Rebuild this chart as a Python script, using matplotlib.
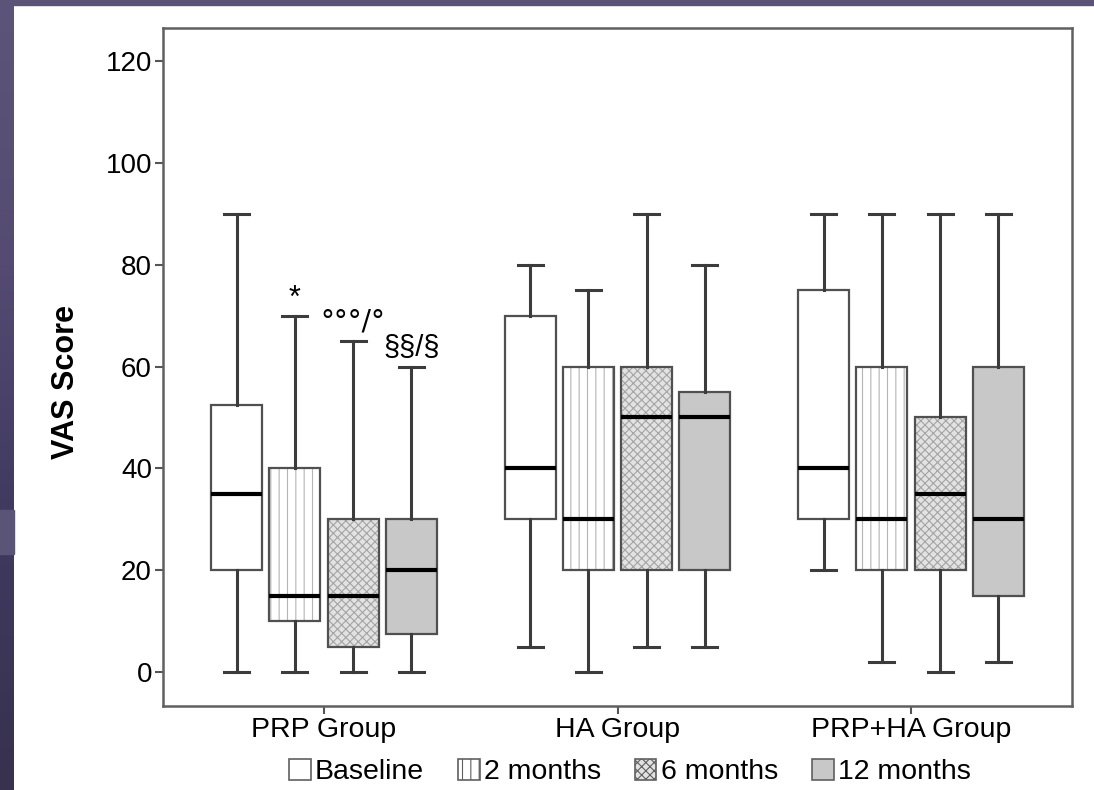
import numpy as np
import matplotlib
matplotlib.use('Agg')
import matplotlib.pyplot as plt
from matplotlib.patches import PathPatch, Patch, Rectangle
from matplotlib.colors import LinearSegmentedColormap

plt.rcParams['font.family'] = ['Liberation Sans', 'DejaVu Sans']
plt.rcParams['hatch.linewidth'] = 0.8

groups = ['PRP Group', 'HA Group', 'PRP+HA Group']
times = ['Baseline', '2 months', '6 months', '12 months']

# one row per group, columns follow `times`
whis_low = [[0, 0, 0, 0], [5, 0, 5, 5], [20, 2, 0, 2]]
q1 = [[20, 10, 5, 7.5], [30, 20, 20, 20], [30, 20, 20, 15]]
median = [[35, 15, 15, 20], [40, 30, 50, 50], [40, 30, 35, 30]]
q3 = [[52.5, 40, 30, 30], [70, 60, 60, 55], [75, 60, 50, 60]]
whis_high = [[90, 70, 65, 60], [80, 75, 90, 80], [90, 90, 90, 90]]

# significance marks for PRP group (group index, time index)
marks = {(0, 1): '*', (0, 2): '°°°/°', (0, 3): '§§/§'}

yticks = [0, 20, 40, 60, 80, 100, 120]

# styles per time point
face = ['white', 'white', '#e2e2e2', '#c8c8c8']
hatch = [None, '||', 'xxxx', None]
hatch_col = ['white', '#b4b4b4', '#a4a4a4', '#c8c8c8']
edge = '#505050'

W, H = 1094, 790
fig = plt.figure(figsize=(W / 100, H / 100), dpi=100)
fig.patch.set_facecolor('white')

# slide background strips
bg = fig.add_axes([0, 0, 1, 1], zorder=-10)
bg.set_xlim(0, W)
bg.set_ylim(H, 0)
bg.axis('off')
cmap = LinearSegmentedColormap.from_list('slide', ['#5c5479', '#554b72', '#3f395f', '#38324f'])
grad = np.linspace(0, 1, 200).reshape(-1, 1)
bg.imshow(grad, extent=(0, 14, H, 0), aspect='auto', cmap=cmap)
bg.add_patch(Rectangle((0, 510), 14, 44, color='#5a5476'))
bg.add_patch(Rectangle((0, 0), W, 5, color='#5b5378'))

ax = fig.add_axes([163 / W, 1 - 706 / H, (1072 - 163) / W, (706 - 28) / H])
ax.set_facecolor('white')

step = 0.198
width = 0.174
stats, pos = [], []
for g in range(len(groups)):
    for t in range(len(times)):
        stats.append(dict(med=median[g][t], q1=q1[g][t], q3=q3[g][t],
                          whislo=whis_low[g][t], whishi=whis_high[g][t], fliers=[]))
        pos.append(g + (t - 1.5) * step)

bp = ax.bxp(stats, positions=pos, widths=width, capwidths=0.085, patch_artist=True,
            showfliers=False,
            boxprops=dict(edgecolor=edge, linewidth=1.6, facecolor='none'),
            whiskerprops=dict(color='#3c3c3c', linewidth=2.2),
            capprops=dict(color='#3c3c3c', linewidth=2.2),
            medianprops=dict(color='black', linewidth=3, solid_capstyle='butt'))

for i, box in enumerate(bp['boxes']):
    t = i % len(times)
    fill = PathPatch(box.get_path(), transform=box.get_transform(), facecolor=face[t],
                     edgecolor=hatch_col[t], hatch=hatch[t], linewidth=0, zorder=box.get_zorder() - 0.5)
    ax.add_patch(fill)

# mark text styles: (font size, family, offset above whisker in points)
mark_style = {'*': (22, 'Liberation Sans', 1),
              '°°°/°': (20, 'DejaVu Sans', 4),
              '§§/§': (21, 'Liberation Sans', 3)}
for (g, t), txt in marks.items():
    i = g * len(times) + t
    size, fam, dy = mark_style[txt]
    ax.annotate(txt, xy=(pos[i], whis_high[g][t]), xytext=(0, dy), textcoords='offset points',
                ha='center', va='bottom', fontsize=size, family=fam)

ax.set_xlim(-0.5486, 2.5486)
ax.set_ylim(-6.68, 126.5)
ax.set_yticks(yticks)
ax.set_yticklabels([str(v) for v in yticks], fontsize=20)
ax.set_xticks(range(len(groups)))
ax.set_xticklabels(groups, fontsize=20.5)
ax.tick_params(axis='both', direction='out', length=6, width=1.5, color='#555555', pad=2)
for s in ax.spines.values():
    s.set_color('#606060')
    s.set_linewidth(1.8)

fig.text(66 / W, 1 - 382 / H, 'VAS Score', rotation=90, fontsize=22, fontweight='bold',
         ha='center', va='center')

handles = [Patch(facecolor=face[t], edgecolor='#606060', hatch=hatch[t], linewidth=1.2)
           for t in range(len(times))]
fig.legend(handles, times, loc='center', bbox_to_anchor=(630 / W, 1 - 772 / H), ncol=4,
           frameon=False, fontsize=20.5, handlelength=0.75, handleheight=0.75,
           handletextpad=0.15, columnspacing=1.2, borderaxespad=0)

fig.savefig('out.png', dpi=100)
